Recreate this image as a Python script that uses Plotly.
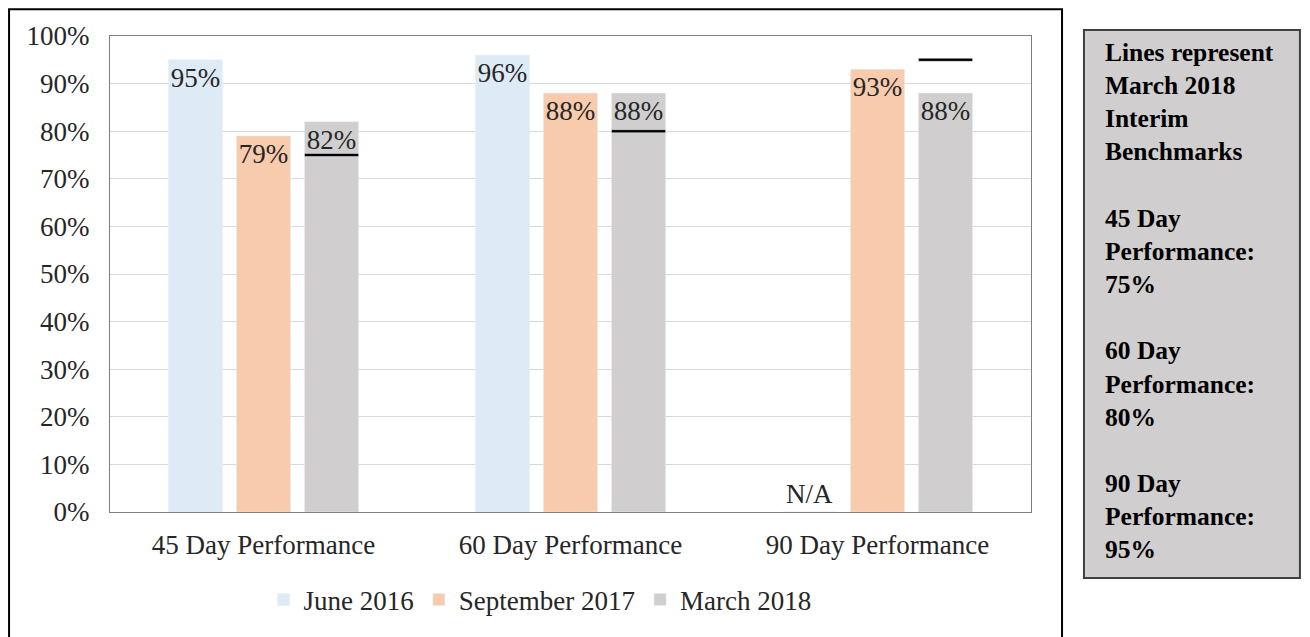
import plotly.graph_objects as go

# categories and series
categories = ["45 Day Performance", "60 Day Performance", "90 Day Performance"]
june_2016 = [95, 96, 0]          # 90 day not available
june_labels = ["95%", "96%", "N/A"]
sept_2017 = [79, 88, 93]
march_2018 = [82, 88, 88]
benchmarks = [75, 80, 95]        # March 2018 interim benchmarks

series_names = ["June 2016", "September 2017", "March 2018"]
colors = ["#DEEBF7", "#F8CBAD", "#D0CECE"]

FONT = "Liberation Serif"
TXT = "#262626"
LINE_HALF = 0.32  # half thickness of benchmark lines, in % units


def pct(vals):
    return [f"{v}%" for v in vals]


fig = go.Figure()

fig.add_trace(
    go.Bar(
        x=categories, y=june_2016, name=series_names[0], offsetgroup="a",
        marker=dict(color=colors[0]),
        text=june_labels,
        textposition=["inside", "inside", "outside"],
        insidetextanchor="end",
        cliponaxis=False,
    )
)
fig.add_trace(
    go.Bar(
        x=categories, y=sept_2017, name=series_names[1], offsetgroup="b",
        marker=dict(color=colors[1]),
        text=pct(sept_2017), textposition="inside", insidetextanchor="end",
    )
)
fig.add_trace(
    go.Bar(
        x=categories, y=march_2018, name=series_names[2], offsetgroup="c",
        marker=dict(color=colors[2]),
        text=pct(march_2018), textposition="inside", insidetextanchor="end",
    )
)
# benchmark lines drawn over the March 2018 bars
fig.add_trace(
    go.Bar(
        x=categories,
        y=[2 * LINE_HALF] * len(benchmarks),
        base=[b - LINE_HALF for b in benchmarks],
        offsetgroup="c",
        marker=dict(color="black"),
        showlegend=False,
        hoverinfo="skip",
    )
)

fig.update_traces(
    textfont=dict(family=FONT, size=27, color=TXT),
    constraintext="none",
    textangle=0,
    selector=dict(type="bar"),
)

box_text = (
    "Lines represent<br>March 2018<br>Interim<br>Benchmarks<br><br>"
    "45 Day<br>Performance:<br>75%<br><br>"
    "60 Day<br>Performance:<br>80%<br><br>"
    "90 Day<br>Performance:<br>95%"
)

# page adds an 8px body margin, so the figure is 8px smaller each way
fig.update_layout(
    width=1302,
    height=629,
    margin=dict(l=102, r=279, t=28, b=125),
    paper_bgcolor="white",
    plot_bgcolor="white",
    barmode="group",
    bargap=0.335,
    bargroupgap=0.206,
    font=dict(family=FONT, size=27, color=TXT),
    legend=dict(
        orientation="h",
        x=0.467, xanchor="center",
        y=-0.185, yanchor="middle",
        font=dict(family=FONT, size=27, color=TXT),
        itemwidth=30,
        traceorder="normal",
    ),
    shapes=[
        # outer chart border
        dict(type="rect", xref="paper", yref="paper",
             x0=-0.1096, x1=1.0337, y0=-0.30, y1=1.056,
             line=dict(color="black", width=2), layer="below"),
        # benchmark note box
        dict(type="rect", xref="paper", yref="paper",
             x0=1.0575, x1=1.292, y0=-0.1387, y1=1.0126,
             fillcolor="#D0CECE", line=dict(color="#404040", width=2)),
    ],
    annotations=[
        dict(
            text=box_text, xref="paper", yref="paper",
            x=1.0785, y=1.0, xanchor="left", yanchor="top",
            align="left", showarrow=False,
            font=dict(family=FONT, size=25.5, color="black", weight="bold"),
        )
    ],
)

fig.update_xaxes(
    showline=True, linecolor="#7F7F7F", linewidth=1, mirror=True,
    ticks="outside", ticklen=9, tickcolor="rgba(0,0,0,0)",
    tickfont=dict(family=FONT, size=27, color=TXT),
)
fig.update_yaxes(
    range=[0, 100], dtick=10, ticksuffix="%",
    showgrid=True, gridcolor="#D9D9D9", gridwidth=1,
    showline=True, linecolor="#7F7F7F", linewidth=1, mirror=True,
    ticks="outside", ticklen=14, tickcolor="rgba(0,0,0,0)",
    tickfont=dict(family=FONT, size=27, color=TXT),
    zeroline=False,
)

fig.write_html("out.html")
